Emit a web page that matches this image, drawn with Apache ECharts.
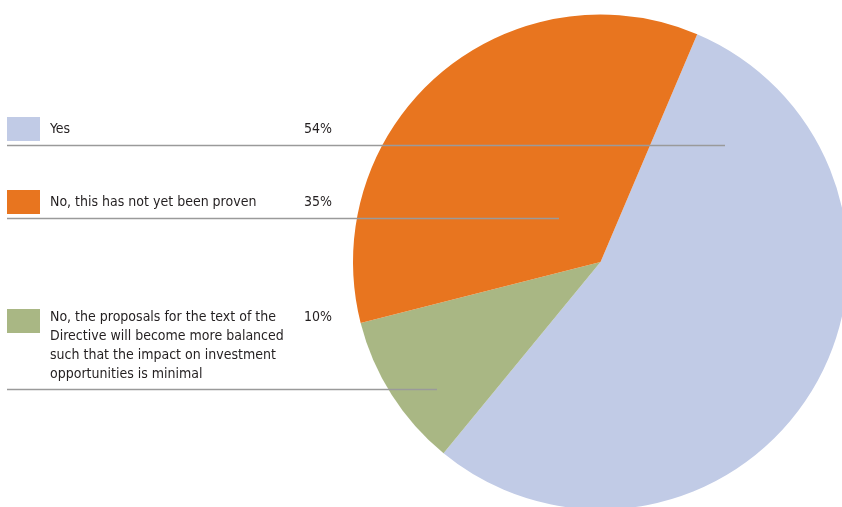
<!DOCTYPE html>
<html>
<head>
<meta charset="utf-8">
<script src="https://cdn.jsdelivr.net/npm/echarts@6/dist/echarts.min.js"></script>
<style>
html,body{margin:0;padding:0;background:#fff;}
#chart{width:842px;height:507px;}
</style>
</head>
<body>
<div id="chart"></div>
<script>
// Legend order (top to bottom)
var categories = [
  'Yes',
  'No, this has not yet been proven',
  'No, the proposals for the text of the\nDirective will become more balanced\nsuch that the impact on investment\nopportunities is minimal'
];
var values = [54, 35, 10];
var colors = ['#C1CBE6', '#E8751F', '#A9B784'];
// clockwise order of slices in the pie (indexes into the arrays above)
var pieOrder = [0, 2, 1];

// layout (styles)
var rowY = [129, 202.5, 317.5];     // text middle of first line
var boxY = [117, 190, 309];
var ruleY = [145.5, 218.5, 389.5];
var ruleEnd = [725, 559, 437];
var FONT = '"Liberation Sans Narrow", "DejaVu Sans Condensed", "Roboto Condensed", sans-serif';

var chart = echarts.init(document.getElementById('chart'), null, {renderer: 'canvas'});

var graphics = [];
categories.forEach(function (name, i) {
  graphics.push({
    type: 'rect', z: 100,
    shape: {x: 7, y: boxY[i], width: 33, height: 24},
    style: {fill: colors[i]}
  });
  graphics.push({
    type: 'text', z: 100,
    x: 50, y: rowY[i] - 9.5,
    style: {
      text: name, fill: '#231f20', fontSize: 14, fontFamily: FONT,
      lineHeight: 19, verticalAlign: 'top', align: 'left'
    }
  });
  graphics.push({
    type: 'text', z: 100,
    x: 304, y: rowY[i] - 9.5,
    style: {
      text: values[i] + '%', fill: '#231f20', fontSize: 14, fontFamily: FONT,
      lineHeight: 19, verticalAlign: 'top', align: 'left'
    }
  });
  graphics.push({
    type: 'line', z: 100,
    shape: {x1: 7, y1: ruleY[i], x2: ruleEnd[i], y2: ruleY[i]},
    style: {stroke: '#9a9a9a', lineWidth: 1.5}
  });
});

chart.setOption({
  animation: false,
  backgroundColor: '#fff',
  graphic: {elements: graphics},
  series: [{
    type: 'pie',
    center: [600.5, 262],
    radius: 247.5,
    startAngle: 67,
    clockwise: true,
    avoidLabelOverlap: false,
    label: {show: false},
    labelLine: {show: false},
    emphasis: {disabled: true},
    itemStyle: {borderWidth: 0},
    data: pieOrder.map(function (i) {
      return {name: categories[i], value: values[i], itemStyle: {color: colors[i]}};
    })
  }]
});
</script>
</body>
</html>
